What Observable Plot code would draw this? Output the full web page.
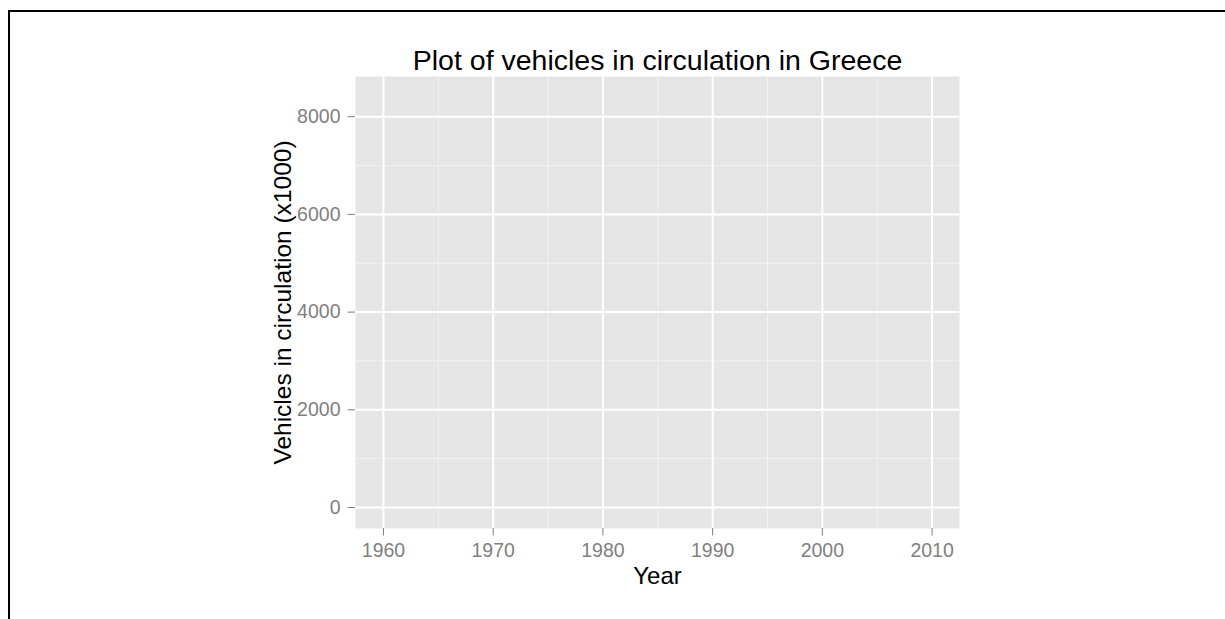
<!DOCTYPE html>
<html>
<head>
<meta charset="utf-8">
<script src="https://cdn.jsdelivr.net/npm/d3@7"></script>
<script src="https://cdn.jsdelivr.net/npm/@observablehq/plot@0.6"></script>
<style>
  html, body { margin: 0; padding: 0; background: #fff; }
  #wrap { position: relative; width: 1225px; height: 619px; overflow: hidden; }
  #edge { position: absolute; left: 7.5px; top: 9.5px; width: 1300px; height: 700px;
          border-left: 2.5px solid #000; border-top: 2.5px solid #000; pointer-events: none; }
</style>
</head>
<body>
<div id="wrap"><div id="edge"></div></div>
<script>
// Data (the reference panel shows no plotted values)
const years = [];
const vehicles = [];

// Tick labels / breaks
const xTicks = [1960, 1970, 1980, 1990, 2000, 2010];
const xMinor = [1965, 1975, 1985, 1995, 2005];
const yTicks = [0, 2000, 4000, 6000, 8000];
const yMinor = [1000, 3000, 5000, 7000];

const titleText = "Plot of vehicles in circulation in Greece";
const xLabel = "Year";
const yLabel = "Vehicles in circulation (x1000)";

const data = years.map((y, i) => ({year: y, vehicles: vehicles[i]}));

const chart = Plot.plot({
  width: 1225,
  height: 619,
  marginLeft: 355,
  marginRight: 266,
  marginTop: 76,
  marginBottom: 91,
  x: {domain: [1957.45, 2012.5]},
  y: {domain: [-430, 8823]},
  style: {fontFamily: "'Liberation Sans', Arial, sans-serif", fontSize: "19.5px", background: "transparent", color: "#000"},
  marks: [
    Plot.frame({fill: "#E5E5E5", stroke: "none"}),
    Plot.ruleX(xMinor, {stroke: "#F2F2F2", strokeWidth: 1}),
    Plot.ruleY(yMinor, {stroke: "#F2F2F2", strokeWidth: 1}),
    Plot.ruleX(xTicks, {stroke: "#FFFFFF", strokeWidth: 2}),
    Plot.ruleY(yTicks, {stroke: "#FFFFFF", strokeWidth: 2}),
    Plot.line(data, {x: "year", y: "vehicles", stroke: "#000"}),
    Plot.axisX({ticks: xTicks, tickFormat: d => String(d), tickSize: 7.5, tickPadding: 7.5,
                color: "#7F7F7F", label: null, fontSize: 19.5}),
    Plot.axisY({ticks: yTicks, tickFormat: d => String(d), tickSize: 7.5, tickPadding: 7.5,
                color: "#7F7F7F", label: null, fontSize: 19.5}),
    Plot.text([titleText], {text: d => d, frameAnchor: "top", textAnchor: "middle", lineAnchor: "bottom",
                dy: -7, fontSize: 28.5, fill: "#000"}),
    Plot.text([xLabel], {text: d => d, frameAnchor: "bottom", textAnchor: "middle", lineAnchor: "bottom",
                dy: 55, fontSize: 24, fill: "#000"}),
    Plot.text([yLabel], {text: d => d, frameAnchor: "left", textAnchor: "middle", lineAnchor: "bottom",
                rotate: -90, dx: -65, fontSize: 24.5, fill: "#000"})
  ]
});

document.getElementById("wrap").insertBefore(chart, document.getElementById("edge"));
</script>
</body>
</html>
